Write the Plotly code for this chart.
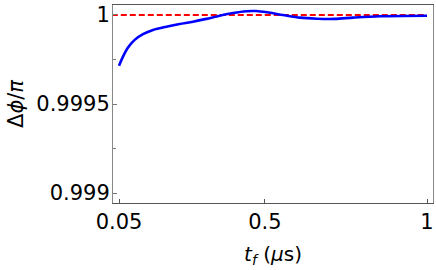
import plotly.graph_objects as go

# data
t_f = [0.05, 0.0623, 0.0778, 0.0984, 0.124, 0.1549, 0.1959, 0.2372, 0.2783,
       0.3193, 0.3606, 0.4016, 0.4427, 0.4735, 0.5065, 0.5559, 0.6083, 0.6607,
       0.716, 0.7718, 0.855, 1.0]
dphi = [0.999715, 0.999766, 0.999817, 0.999860, 0.999892, 0.999916, 0.999934,
        0.999949, 0.999962, 0.999978, 0.999996, 1.000011, 1.000021, 1.000022,
        1.000015, 1.0, 0.999985, 0.999979, 0.999978, 0.999985, 0.999993, 0.999996]
ref_x = [0.0, 1.0]
ref_y = [1.0, 1.0]

x_ticks = [0.05, 0.5, 1.0]
x_ticktext = ["0.05", "0.5", "1"]
y_ticks = [0.999, 0.9995, 1.0]
y_ticktext = ["0.999", "0.9995", "1"]

fig = go.Figure()
fig.add_trace(go.Scatter(x=ref_x, y=ref_y, mode="lines",
                         line=dict(color="#ff0000", width=2, dash="6px,3px"),
                         hoverinfo="skip", showlegend=False))
fig.add_trace(go.Scatter(x=t_f, y=dphi, mode="lines",
                         line=dict(color="#0000ff", width=2.6, shape="spline", smoothing=0.8),
                         showlegend=False))

fam = "DejaVu Sans, sans-serif"
font = dict(family=fam, size=21, color="black")

fig.update_layout(
    width=436, height=270,
    margin=dict(l=113, r=3, t=5, b=67),
    plot_bgcolor="white", paper_bgcolor="white",
    font=font,
    hovermode=False,
    xaxis=dict(range=[0.0315, 1.0185], tickvals=x_ticks, ticktext=x_ticktext,
               ticks="inside", ticklen=4, tickcolor="#555", showgrid=False,
               zeroline=False, showline=True, linecolor="#555", linewidth=1,
               mirror=True, tickfont=font, automargin=False,
               ticklabeloverflow="allow", ticklabelstandoff=0,
               title=dict(text="<i>t<sub>f</sub></i> (<i>μ</i>s)",
                          font=dict(family=fam, size=20, color="black"), standoff=13)),
    yaxis=dict(range=[0.998944, 1.000056], tickvals=y_ticks, ticktext=y_ticktext,
               ticks="inside", ticklen=4, tickcolor="#777", showgrid=False,
               zeroline=False, showline=True, linecolor="#888", linewidth=1,
               mirror=True, tickfont=font, automargin=False,
               ticklabeloverflow="allow", ticklabelstandoff=-2,
               minor=dict(ticks="inside", ticklen=3, dtick=0.00025, tick0=0.999,
                          tickcolor="#777", showgrid=False),
               title=dict(text="Δ<i>ϕ</i>/<i>π</i>",
                          font=dict(family=fam, size=21, color="black"), standoff=6)),
)

fig.write_html("out.html", config={"displayModeBar": False, "staticPlot": True},
               post_script="document.body.style.margin='0';document.body.style.padding='0';")
